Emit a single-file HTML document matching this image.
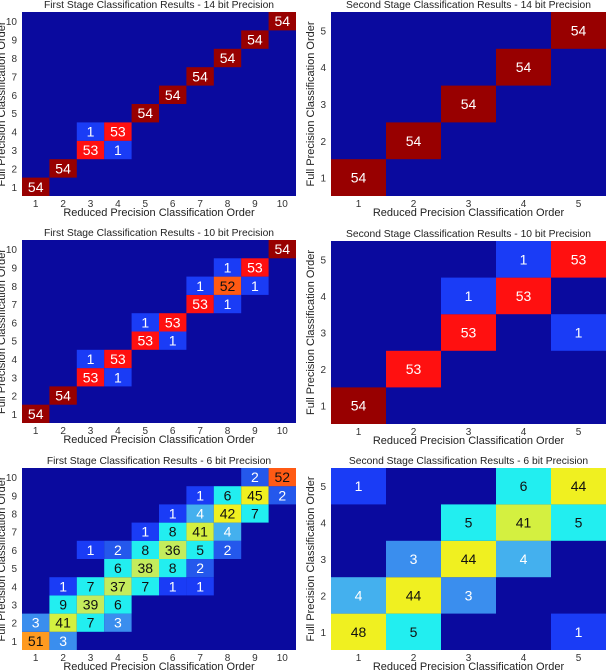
<!DOCTYPE html>
<html><head><meta charset="utf-8">
<style>
html,body{margin:0;padding:0;background:#fff;}
svg{display:block;font-family:"Liberation Sans",sans-serif;}
</style></head>
<body>
<svg id="fig" width="606" height="670" viewBox="0 0 606 670" xmlns="http://www.w3.org/2000/svg"></svg>
<script>
// Panel data: x = reduced precision order, y = full precision order, v = count (non-zero cells)
const tlX=[1,2,3,4,3,4,5,6,7,8,9,10];
const tlY=[1,2,3,3,4,4,5,6,7,8,9,10];
const tlV=[54,54,53,1,1,53,54,54,54,54,54,54];

const trX=[1,2,3,4,5];
const trY=[1,2,3,4,5];
const trV=[54,54,54,54,54];

const mlX=[1,2,3,4,3,4,5,6,5,6,7,8,7,8,9,8,9,10];
const mlY=[1,2,3,3,4,4,5,5,6,6,7,7,8,8,8,9,9,10];
const mlV=[54,54,53,1,1,53,53,1,1,53,53,1,1,52,1,1,53,54];

const mrX=[1,2,3,5,3,4,4,5];
const mrY=[1,2,3,3,4,4,5,5];
const mrV=[54,53,53,1,1,53,1,53];

const blX=[1,2, 1,2,3,4, 2,3,4, 2,3,4,5,6,7, 4,5,6,7, 3,4,5,6,7,8, 5,6,7,8, 6,7,8,9, 7,8,9,10, 9,10];
const blY=[1,1, 2,2,2,2, 3,3,3, 4,4,4,4,4,4, 5,5,5,5, 6,6,6,6,6,6, 7,7,7,7, 8,8,8,8, 9,9,9,9, 10,10];
const blV=[51,3, 3,41,7,3, 9,39,6, 1,7,37,7,1,1, 6,38,8,2, 1,2,8,36,5,2, 1,8,41,4, 1,4,42,7, 1,6,45,2, 2,52];

const brX=[1,2,5, 1,2,3, 2,3,4, 3,4,5, 1,4,5];
const brY=[1,1,1, 2,2,2, 3,3,3, 4,4,4, 5,5,5];
const brV=[48,5,1, 4,44,3, 3,44,4, 5,41,5, 1,6,44];

const panels=[
 {id:'tl',title:'First Stage Classification Results - 14 bit Precision',n:10,x0:22,x1:296,y0:12,y1:196,X:tlX,Y:tlY,V:tlV},
 {id:'tr',title:'Second Stage Classification Results - 14 bit Precision',n:5,x0:331,x1:606,y0:12,y1:196,X:trX,Y:trY,V:trV},
 {id:'ml',title:'First Stage Classification Results - 10 bit Precision',n:10,x0:22,x1:296,y0:240,y1:423,X:mlX,Y:mlY,V:mlV},
 {id:'mr',title:'Second Stage Classification Results - 10 bit Precision',n:5,x0:331,x1:606,y0:241,y1:424,X:mrX,Y:mrY,V:mrV},
 {id:'bl',title:'First Stage Classification Results -  6 bit Precision',n:10,x0:22,x1:296,y0:468,y1:650,X:blX,Y:blY,V:blV},
 {id:'br',title:'Second Stage Classification Results -  6 bit Precision',n:5,x0:331,x1:606,y0:468,y1:650,X:brX,Y:brY,V:brV}
];

function colorFor(v){
  if(v<=0) return '#0a0a9e';
  if(v<=1) return '#1a3cf6';
  if(v<=2) return '#2458ec';
  if(v<=3) return '#3a8eee';
  if(v<=4) return '#44b0ee';
  if(v<=9) return '#22eef0';
  if(v<=35) return '#80f0a0';
  if(v<=39) return '#c4ec5c';
  if(v<=41) return '#d4f040';
  if(v<=48) return '#f0f020';
  if(v<=51) return '#ff9a20';
  if(v<=52) return '#ff5a14';
  if(v<=53) return '#ff1010';
  return '#980000';
}
function textFor(v){ return (v<=4||v>=53)?'#fff':'#111'; }

const NS='http://www.w3.org/2000/svg';
const svg=document.getElementById('fig');
function mk(tag,attrs,parent){const e=document.createElementNS(NS,tag);for(const k in attrs)e.setAttribute(k,attrs[k]);(parent||svg).appendChild(e);return e;}

panels.forEach(p=>{
  const g=mk('g',{});
  
  
  const cw=(p.x1-p.x0)/p.n, ch=(p.y1-p.y0)/p.n;
  const xs=i=>p.x0+(i-1)*cw;           // left edge of column i
  const ys=j=>p.y1-j*ch;               // top edge of row j
  const bg=mk('rect',{x:p.x0,y:p.y0,width:p.x1-p.x0,height:p.y1-p.y0,fill:colorFor(0)},g);
  
  
  for(let k=0;k<p.V.length;k++){
    const r=mk('rect',{x:xs(p.X[k]),y:ys(p.Y[k]),width:cw,height:ch,fill:colorFor(p.V[k])},g);
    
    
    const t=mk('text',{x:xs(p.X[k])+cw/2,y:ys(p.Y[k])+ch/2+5,'text-anchor':'middle','font-size':14,fill:textFor(p.V[k])},g);
    
    
    t.textContent=p.V[k];
  }
  for(let i=1;i<=p.n;i++){
    const tx=mk('text',{x:xs(i)+cw/2,y:p.y1+11,'text-anchor':'middle','font-size':10,fill:'#333'},g);
    
    
    tx.textContent=i;
    const ty=mk('text',{x:p.x0-5,y:ys(i)+ch/2+4,'text-anchor':'end','font-size':10,fill:'#333'},g);
    
    
    ty.textContent=i;
  }
  const cx=(p.x0+p.x1)/2;
  const ti=mk('text',{x:cx,y:p.y0-4,'text-anchor':'middle','font-size':10.3,fill:'#222'},g);
  
  
  ti.textContent=p.title;
  const xl=mk('text',{x:cx,y:p.y1+20,'text-anchor':'middle','font-size':11,fill:'#222'},g);
  
  
  xl.textContent='Reduced Precision Classification Order';
  const cy=(p.y0+p.y1)/2, lx=p.x0-17;
  const yl=mk('text',{x:lx,y:cy,'text-anchor':'middle','font-size':11,fill:'#222',transform:'rotate(-90 '+lx+' '+cy+')'},g);
  
  
  yl.textContent='Full Precision Classification Order';
});
</script>
</body></html>
